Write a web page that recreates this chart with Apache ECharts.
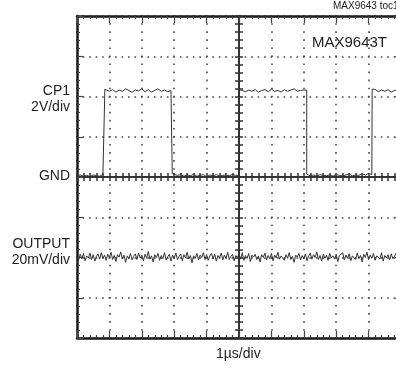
<!DOCTYPE html>
<html>
<head>
<meta charset="utf-8">
<script src="https://cdn.jsdelivr.net/npm/echarts@6/dist/echarts.min.js"></script>
<style>
  html, body { margin: 0; padding: 0; background: #fff; }
  #main { width: 396px; height: 371px; }
</style>
</head>
<body>
<div id="main"></div>
<script>
// scope traces, in divisions (GND = 0), 1us/div
const cp1Step = 0.1;
const cp1Edges = [0.86, 2.94, 5.0, 7.09, 9.11];
const cp1 = [
  0.03, 0.05, 0.02, 0.04, 0.01, 0.05, 0.03, 0.02, 0.06,
  2.18, 2.13, 2.17, 2.11, 2.16, 2.13, 2.19, 2.15, 2.10, 2.16,
  2.14, 2.19, 2.12, 2.17, 2.11, 2.15, 2.19, 2.13, 2.16, 2.12, 2.15,
  0.08, 0.04, 0.06, 0.02, 0.05, 0.03, 0.07, 0.02, 0.04, 0.06,
  0.01, 0.05, 0.03, 0.06, 0.02, 0.04, 0.05, 0.03, 0.06, 0.04,
  2.17, 2.15, 2.12, 2.16, 2.13, 2.17, 2.11, 2.15, 2.17, 2.12,
  2.18, 2.13, 2.15, 2.11, 2.17, 2.13, 2.16, 2.19, 2.13, 2.15, 2.16,
  0.07, 0.03, 0.05, 0.02, 0.06, 0.04, 0.03, 0.05, 0.02, 0.06,
  0.04, 0.03, 0.05, 0.07, 0.03, 0.05, 0.04, 0.08, 0.05, 0.09, 0.06,
  2.18, 2.12, 2.16, 2.13, 2.17, 2.11, 2.15, 2.16, 2.14
];
const outStep = 0.05;
const output = [
  -1.95, -2.06, -1.92, -2.03, -1.90, -2.08, -1.96, -2.01, -1.89, -2.05, -1.93, -2.09, -1.97, -1.91, -2.04, -1.88, -2.02, -1.94, -2.07, -1.92,
  -2.00, -1.87, -2.05, -1.95, -2.10, -1.93, -1.99, -1.86, -2.04, -1.94, -2.12, -1.96, -2.03, -1.90, -2.06, -1.97, -1.91, -2.05, -1.89, -2.01,
  -1.94, -2.08, -1.92, -2.02, -1.85, -2.04, -1.96, -2.11, -1.93, -2.00, -1.90, -2.07, -1.95, -2.03, -1.88, -2.06, -1.98, -1.92, -2.09, -1.94,
  -2.02, -1.89, -2.05, -1.97, -1.91, -2.08, -1.93, -2.01, -1.87, -2.04, -1.95, -2.13, -1.96, -2.02, -1.90, -2.06, -1.94, -2.00, -1.88, -2.05,
  -1.93, -2.07, -1.96, -1.90, -2.03, -1.92, -2.09, -1.95, -2.01, -1.89, -2.06, -1.94, -2.02, -1.87, -2.05, -1.97, -1.92, -2.08, -1.95, -2.00,
  -1.91, -2.04, -1.88, -2.07, -1.95, -2.02, -1.90, -2.10, -1.94, -1.99, -1.92, -2.05, -1.96, -2.11, -1.93, -2.00, -1.89, -2.06, -1.95, -2.03,
  -1.90, -2.08, -1.94, -2.01, -1.87, -2.04, -1.96, -1.92, -2.07, -1.93, -2.02, -1.88, -2.05, -1.97, -2.12, -1.94, -1.99, -1.90, -2.06, -1.95,
  -2.03, -1.91, -2.08, -1.96, -1.89, -2.04, -1.93, -2.00, -1.86, -2.05, -1.95, -2.09, -1.92, -2.02, -1.94, -2.07, -1.90, -2.01, -1.96, -2.04,
  -1.92, -2.10, -1.95, -1.99, -1.88, -2.06, -1.94, -2.02, -1.91, -2.08, -1.96, -1.93, -2.05, -1.89, -2.03, -1.95, -2.11, -1.92, -2.00, -1.87,
  -2.05, -1.94, -2.02, -1.90, -2.07, -1.96, -1.92, -2.04, -1.88, -2.09, -1.95, -2.01, -1.93, -2.06, -1.91, -2.03, -1.97, -1.89, -2.08, -1.94,
  -2.00
];

// put the square wave edges in as vertical steps
let cp1Data = [];
for (let i = 0; i < cp1.length; i++) {
  const t = +(i * cp1Step).toFixed(2);
  if (i > 0) {
    const tPrev = +((i - 1) * cp1Step).toFixed(2);
    cp1Edges.forEach(e => {
      if (e > tPrev && e <= t) {
        cp1Data.push([e, cp1[i - 1]]);
        cp1Data.push([e, cp1[i]]);
      }
    });
  }
  cp1Data.push([t, cp1[i]]);
}
const outData = output.map((v, i) => [+(i * outStep).toFixed(2), v]);

const ink = '#1a1a1a';
const rect = { left: 77, top: 16, width: 324, height: 322 };

// border axis (frame with ticks + dotted grid)
const frameX = (pos, split) => ({
  gridIndex: 0, type: 'value', min: 0, max: 10, interval: 1, position: pos,
  axisLine: { show: true, onZero: false, lineStyle: { color: ink, width: 2.5 } },
  axisTick: { show: true, inside: true, length: 7, lineStyle: { color: '#444', width: 1.2 } },
  minorTick: { show: true, splitNumber: 5, length: 3, lineStyle: { color: '#444', width: 1.2 } },
  axisLabel: { show: false },
  splitLine: { show: split, lineStyle: { color: '#444', width: 1.6, type: [1.6, 6.45], dashOffset: 0.8 } }
});
const frameY = (pos, split) => ({
  gridIndex: 0, type: 'value', min: -4, max: 4, interval: 1, position: pos,
  axisLine: { show: true, onZero: false, lineStyle: { color: ink, width: 2.5 } },
  axisTick: { show: true, inside: true, length: 6, lineStyle: { color: '#444', width: 1.2 } },
  minorTick: { show: true, splitNumber: 5, length: 3, lineStyle: { color: '#444', width: 1.2 } },
  axisLabel: { show: false },
  splitLine: { show: split, lineStyle: { color: '#444', width: 1.6, type: [1.6, 4.88], dashOffset: 0.8 } }
});
// centre cross lines, ticks on both sides (two grids, inside / outside)
const crossX = (g, inside) => ({
  gridIndex: g, type: 'value', min: -5, max: 5, interval: 1,
  axisLine: { show: true, onZero: true, lineStyle: { color: '#333', width: 2 } },
  axisTick: { show: true, inside: inside, length: 4, lineStyle: { color: '#333', width: 1.5 } },
  minorTick: { show: true, splitNumber: 5, length: 4, lineStyle: { color: '#333', width: 1.5 } },
  axisLabel: { show: false }, splitLine: { show: false }
});
const crossY = (g, inside) => ({
  gridIndex: g, type: 'value', min: -4, max: 4, interval: 1,
  axisLine: { show: true, onZero: true, lineStyle: { color: '#333', width: 2 } },
  axisTick: { show: true, inside: inside, length: 4, lineStyle: { color: '#333', width: 1.5 } },
  minorTick: { show: true, splitNumber: 5, length: 4, lineStyle: { color: '#333', width: 1.5 } },
  axisLabel: { show: false }, splitLine: { show: false }
});

const labelFont = { fontFamily: 'Liberation Sans', fontSize: 14, fill: '#222' };
const leftLabels = [
  ['CP1', 92], ['2V/div', 108], ['GND', 177], ['OUTPUT', 245], ['20mV/div', 261]
];

const chart = echarts.init(document.getElementById('main'), null, { renderer: 'canvas' });
chart.setOption({
  animation: false,
  backgroundColor: '#fff',
  grid: [
    Object.assign({ outerBoundsMode: 'none' }, rect),
    Object.assign({ outerBoundsMode: 'none' }, rect),
    Object.assign({ outerBoundsMode: 'none' }, rect)
  ],
  xAxis: [frameX('bottom', true), frameX('top', false), crossX(1, true), crossX(2, false)],
  yAxis: [frameY('left', true), frameY('right', false), crossY(1, true), crossY(2, false)],
  series: [
    {
      name: 'CP1', type: 'line', xAxisIndex: 0, yAxisIndex: 0,
      data: cp1Data, showSymbol: false, z: 5,
      lineStyle: { color: '#333', width: 1 }
    },
    {
      name: 'OUTPUT', type: 'line', xAxisIndex: 0, yAxisIndex: 0,
      data: outData, showSymbol: false, z: 5,
      lineStyle: { color: '#333', width: 1 }
    }
  ],
  graphic: leftLabels.map(([t, y]) => ({
    type: 'text', right: 326, top: y - 8,
    style: Object.assign({ text: t, textAlign: 'right' }, labelFont)
  })).concat([
    { type: 'text', left: 312, top: 35,
      style: { text: 'MAX9643T', fontFamily: 'Liberation Sans', fontSize: 15, fill: '#222' } },
    { type: 'text', left: 333, top: 1,
      style: { text: 'MAX9643 toc18', fontFamily: 'Liberation Sans', fontSize: 10, fill: '#222' } },
    { type: 'text', left: 216, top: 347,
      style: { text: '1µs/div', fontFamily: 'Liberation Sans', fontSize: 14, fill: '#222' } }
  ])
});
</script>
</body>
</html>
